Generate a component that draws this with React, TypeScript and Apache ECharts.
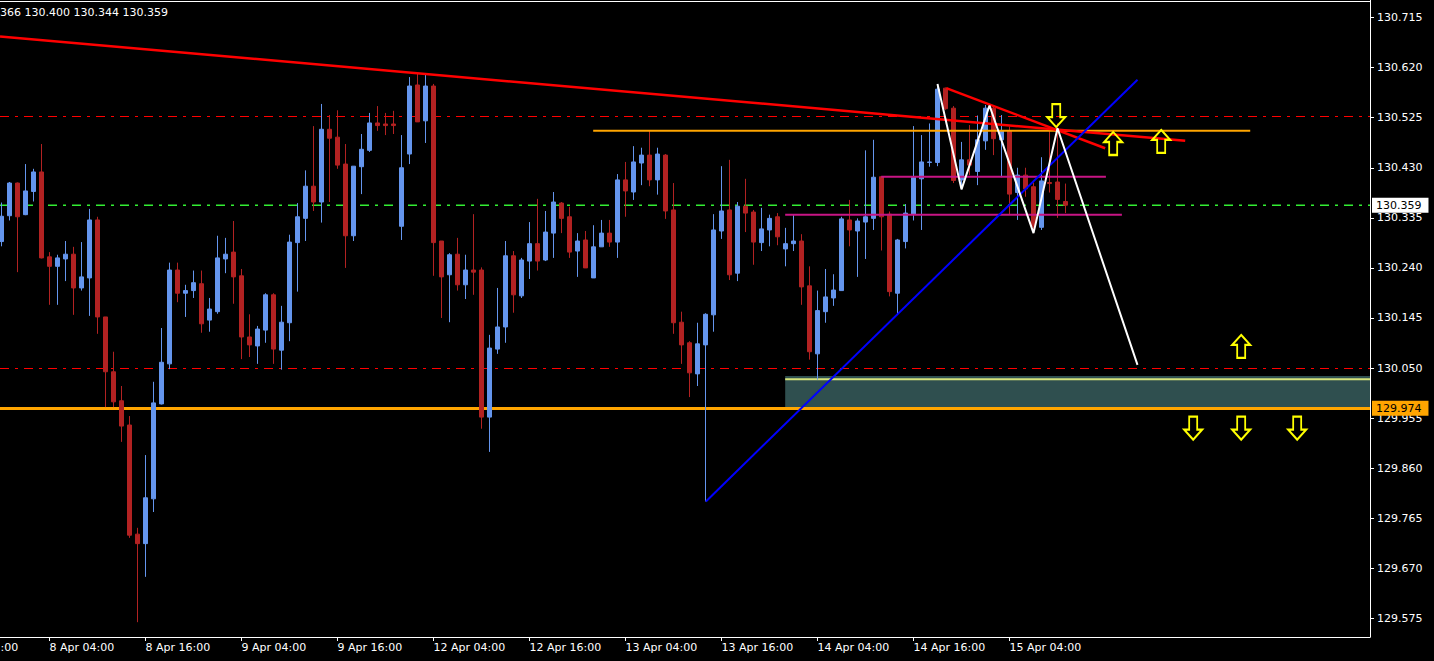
import React, { useEffect, useRef } from "react";
import * as echarts from "echarts";

// ---- Candles (H1), index 0..133 ----
const OPEN = [
  130.290, 130.339, 130.401, 130.341, 130.385, 130.422, 130.261, 130.243, 130.257, 130.266,
  130.202, 130.221, 130.331, 130.147, 130.043, 129.988, 129.942, 129.735, 129.717, 129.802,
  129.982, 130.058, 130.236, 130.192, 130.197, 130.210, 130.141, 130.157, 130.257, 130.270,
  130.225, 130.109, 130.092, 130.122, 130.189, 130.084, 130.136, 130.288, 130.334, 130.395,
  130.365, 130.503, 130.488, 130.437, 130.301, 130.432, 130.463, 130.515, 130.513, 130.513,
  130.319, 130.456, 130.587, 130.519, 130.585, 130.291, 130.227, 130.266, 130.208, 130.236,
  130.236, 129.957, 130.086, 130.128, 130.263, 130.187, 130.253, 130.286, 130.255, 130.306,
  130.363, 130.337, 130.272, 130.293, 130.221, 130.280, 130.306, 130.289, 130.407, 130.384,
  130.439, 130.454, 130.407, 130.454, 130.350, 130.137, 130.098, 130.039, 130.094, 130.151,
  130.310, 130.350, 130.230, 130.357, 130.346, 130.288, 130.312, 130.337, 130.276, 130.286,
  130.291, 130.206, 130.077, 130.157, 130.183, 130.197, 130.331, 130.310, 130.327, 130.334,
  130.413, 130.342, 130.192, 130.290, 130.342, 130.409, 130.440, 130.440, 130.581, 130.543,
  130.407, 130.445, 130.423, 130.481, 130.543, 130.483, 130.500, 130.383, 130.416, 130.394,
  130.317, 130.402, 130.403, 130.366,
];
const CLOSE = [
  130.338, 130.401, 130.337, 130.386, 130.422, 130.259, 130.243, 130.259, 130.266, 130.202,
  130.223, 130.331, 130.147, 130.043, 129.986, 129.940, 129.733, 129.717, 129.804, 129.984,
  130.061, 130.236, 130.192, 130.197, 130.212, 130.134, 130.162, 130.259, 130.266, 130.223,
  130.109, 130.094, 130.124, 130.189, 130.086, 130.137, 130.289, 130.337, 130.395, 130.365,
  130.503, 130.486, 130.435, 130.301, 130.433, 130.465, 130.515, 130.510, 130.510, 130.510,
  130.430, 130.585, 130.517, 130.585, 130.288, 130.223, 130.265, 130.208, 130.236, 130.232,
  129.957, 130.088, 130.128, 130.263, 130.189, 130.255, 130.286, 130.253, 130.308, 130.365,
  130.334, 130.270, 130.291, 130.240, 130.280, 130.306, 130.289, 130.407, 130.386, 130.441,
  130.454, 130.407, 130.456, 130.348, 130.136, 130.094, 130.041, 130.096, 130.152, 130.312,
  130.348, 130.227, 130.357, 130.344, 130.289, 130.314, 130.334, 130.299, 130.286, 130.291,
  130.204, 130.081, 130.159, 130.185, 130.198, 130.333, 130.312, 130.329, 130.337, 130.412,
  130.337, 130.195, 130.293, 130.344, 130.412, 130.441, 130.441, 130.579, 130.542, 130.406,
  130.445, 130.435, 130.483, 130.543, 130.485, 130.500, 130.380, 130.416, 130.390, 130.318,
  130.405, 130.400, 130.370, 130.359,
];
const LOW = [
  130.281, 130.330, 130.232, 130.340, 130.366, 130.258, 130.170, 130.170, 130.215, 130.151,
  130.197, 130.149, 130.115, 129.976, 129.976, 129.910, 129.728, 129.568, 129.654, 129.777,
  129.981, 130.048, 130.175, 130.147, 130.183, 130.117, 130.119, 130.153, 130.230, 130.172,
  130.067, 130.071, 130.058, 130.098, 130.058, 130.047, 130.101, 130.195, 130.291, 130.348,
  130.326, 130.365, 130.428, 130.240, 130.291, 130.380, 130.460, 130.500, 130.492, 130.494,
  130.293, 130.437, 130.517, 130.477, 130.225, 130.145, 130.137, 130.197, 130.181, 130.189,
  129.935, 129.891, 130.077, 130.098, 130.155, 130.183, 130.219, 130.235, 130.253, 130.259,
  130.306, 130.259, 130.223, 130.240, 130.221, 130.280, 130.280, 130.259, 130.337, 130.369,
  130.397, 130.395, 130.379, 130.333, 130.115, 130.058, 129.995, 130.016, 129.797, 130.119,
  130.295, 130.217, 130.215, 130.308, 130.246, 130.272, 130.281, 130.283, 130.243, 130.272,
  130.170, 130.066, 130.028, 130.136, 130.168, 130.197, 130.281, 130.223, 130.257, 130.312,
  130.273, 130.186, 130.151, 130.277, 130.330, 130.312, 130.432, 130.433, 130.540, 130.401,
  130.389, 130.416, 130.397, 130.464, 130.454, 130.412, 130.341, 130.331, 130.375, 130.306,
  130.312, 130.383, 130.335, 130.344,
];
const HIGH = [
  130.364, 130.403, 130.402, 130.437, 130.428, 130.475, 130.270, 130.265, 130.291, 130.280,
  130.289, 130.352, 130.337, 130.147, 130.081, 130.016, 129.959, 129.747, 129.885, 130.024,
  130.126, 130.250, 130.250, 130.208, 130.235, 130.235, 130.183, 130.301, 130.297, 130.329,
  130.238, 130.152, 130.130, 130.192, 130.192, 130.168, 130.303, 130.363, 130.425, 130.509,
  130.551, 130.530, 130.539, 130.475, 130.433, 130.494, 130.534, 130.547, 130.534, 130.538,
  130.492, 130.602, 130.610, 130.606, 130.589, 130.291, 130.268, 130.297, 130.265, 130.342,
  130.241, 130.113, 130.202, 130.291, 130.272, 130.259, 130.327, 130.371, 130.348, 130.384,
  130.365, 130.356, 130.306, 130.310, 130.321, 130.331, 130.331, 130.418, 130.441, 130.471,
  130.468, 130.500, 130.468, 130.456, 130.401, 130.157, 130.101, 130.136, 130.154, 130.342,
  130.433, 130.445, 130.365, 130.409, 130.350, 130.354, 130.341, 130.344, 130.316, 130.342,
  130.304, 130.243, 130.197, 130.238, 130.228, 130.337, 130.369, 130.334, 130.463, 130.483,
  130.413, 130.347, 130.295, 130.361, 130.509, 130.492, 130.514, 130.589, 130.582, 130.547,
  130.479, 130.511, 130.529, 130.549, 130.546, 130.530, 130.508, 130.430, 130.430, 130.402,
  130.450, 130.502, 130.514, 130.400,
];

// ---- Axes ----
const PRICE_TICKS = [
  129.575, 129.67, 129.765, 129.86, 129.955, 130.05, 130.145, 130.24, 130.335, 130.43,
  130.525, 130.62, 130.715,
];
const TIME_TICKS = [6, 18, 30, 42, 54, 66, 78, 90, 102, 114, 126];
const TIME_LABELS = [
  "8 Apr 04:00", "8 Apr 16:00", "9 Apr 04:00", "9 Apr 16:00", "12 Apr 04:00", "12 Apr 16:00",
  "13 Apr 04:00", "13 Apr 16:00", "14 Apr 04:00", "14 Apr 16:00", "15 Apr 04:00",
];
const CUT_LABEL = ":00";
const BAR_RANGE = [-0.1875, 171.0625];
const PRICE_RANGE = [129.5399, 130.7482];

// ---- Horizontal levels ----
const BID = 130.359;
const LEVEL_RED_UPPER = 130.528;
const LEVEL_RED_LOWER = 130.05;
const LEVEL_ORANGE = 129.974;

// ---- Drawn objects: [bar index, price] ----
const ZONE_X = [97.96, 171.0625];
const ZONE_PRICES = [130.035, 129.974];
const ZONE_EDGE = [[97.96, 130.029], [171.0625, 130.029]];
const RED_TREND = [[-0.1875, 130.679], [147.96, 130.481]];
const RED_SHORT = [[118.09, 130.581], [137.96, 130.467]];
const BLUE_TREND = [[88.05, 129.797], [142.0, 130.597]];
const ORANGE_SEG = [[73.96, 130.5], [156.09, 130.5]];
const MAGENTA_UPPER = [[109.96, 130.413], [138.05, 130.413]];
const MAGENTA_LOWER = [[97.96, 130.341], [140.05, 130.341]];
const ZIGZAG = [
  [117, 130.589], [120, 130.389], [123.5, 130.548], [129, 130.306], [132, 130.505], [142, 130.056],
];
const UP_ARROWS = [[138.96, 130.476], [144.96, 130.48], [154.96, 130.091]];
const DOWN_ARROWS = [[131.84, 130.529], [148.96, 129.936], [154.96, 129.936], [161.96, 129.936]];

const FONT = "DejaVu Sans";
const UP_PATH = "path://M9,0L18,10L13,10L13,23L5,23L5,10L0,10Z";
const DOWN_PATH = "path://M5,0L13,0L13,13L18,13L9,23L0,13L5,13Z";
const DASHDOT = [9, 6, 3, 6];

export default function App() {
  const ref = useRef<HTMLDivElement>(null);

  useEffect(() => {
    if (!ref.current) return;
    const chart = echarts.init(ref.current, null, { renderer: "svg" });
    const candles = OPEN.map((o, i) => [i, o, CLOSE[i], LOW[i], HIGH[i]]);
    const last = candles.length - 1;
    const header = `${OPEN[last].toFixed(3).slice(4)} ${HIGH[last].toFixed(3)} ${LOW[last].toFixed(3)} ${CLOSE[last].toFixed(3)}`;

    const trend = (data: number[][], color: string, width: number, z = 4) => ({
      type: "line",
      data,
      symbol: "none",
      silent: true,
      z,
      lineStyle: { color, width, type: "solid" },
    });

    const boxLabel = (text: string, bg: string) => ({
      show: true,
      formatter: text,
      distance: 2,
      backgroundColor: bg,
      color: "#000000",
      fontFamily: FONT,
      fontSize: 11,
      lineHeight: 12,
      padding: [2, 7, 1, 4],
    });

    const option: any = {
      animation: false,
      backgroundColor: "#000000",
      textStyle: { fontFamily: FONT },
      grid: { left: 0, right: 64, top: 0, bottom: 24, containLabel: false },
      xAxis: {
        type: "value",
        min: BAR_RANGE[0],
        max: BAR_RANGE[1],
        axisLine: { show: true, onZero: false, lineStyle: { color: "#ffffff", width: 1 } },
        axisTick: {
          show: true,
          customValues: TIME_TICKS,
          length: 4,
          lineStyle: { color: "#ffffff" },
        },
        axisLabel: {
          show: true,
          customValues: TIME_TICKS,
          formatter: (v: number) => TIME_LABELS[TIME_TICKS.indexOf(Math.round(v))] ?? "",
          color: "#ffffff",
          fontFamily: FONT,
          fontSize: 11,
          align: "left",
          margin: 5,
          hideOverlap: false,
        },
        splitLine: { show: false },
      },
      yAxis: {
        type: "value",
        position: "right",
        min: PRICE_RANGE[0],
        max: PRICE_RANGE[1],
        axisLine: { show: true, onZero: false, lineStyle: { color: "#ffffff", width: 1 } },
        axisTick: {
          show: true,
          customValues: PRICE_TICKS,
          length: 4,
          lineStyle: { color: "#ffffff" },
        },
        axisLabel: {
          show: true,
          customValues: PRICE_TICKS,
          formatter: (v: number) => v.toFixed(3),
          color: "#ffffff",
          fontFamily: FONT,
          fontSize: 11,
          margin: 7,
        },
        splitLine: { show: false },
      },
      series: [
        {
          type: "candlestick",
          data: candles,
          barWidth: 4,
          z: 2,
          silent: true,
          itemStyle: {
            color: "#6495ED",
            color0: "#B22222",
            borderColor: "#6495ED",
            borderColor0: "#B22222",
            borderWidth: 1,
          },
          markArea: {
            silent: true,
            z: 1,
            itemStyle: { color: "#2F4F4F" },
            data: [
              [
                { xAxis: ZONE_X[0], yAxis: ZONE_PRICES[0] },
                { xAxis: ZONE_X[1], yAxis: ZONE_PRICES[1] },
              ],
            ],
          },
          markLine: {
            silent: true,
            z: 1,
            symbol: ["none", "none"],
            precision: 3,
            data: [
              {
                yAxis: LEVEL_RED_UPPER,
                lineStyle: { color: "#FF0000", width: 1, type: DASHDOT },
                label: { show: false },
              },
              {
                yAxis: LEVEL_RED_LOWER,
                lineStyle: { color: "#FF0000", width: 1, type: DASHDOT },
                label: { show: false },
              },
              {
                yAxis: LEVEL_ORANGE,
                lineStyle: { color: "#FFA500", width: 3, type: "solid" },
                label: { ...boxLabel(LEVEL_ORANGE.toFixed(3), "#FFA500"), position: "end" },
              },
            ],
          },
        },
        {
          type: "line",
          data: [[BAR_RANGE[0], BID], [BAR_RANGE[1], BID]],
          symbol: "none",
          silent: true,
          z: 1,
          lineStyle: { color: "#33EE33", width: 1.5, type: DASHDOT, opacity: 1 },
          endLabel: { ...boxLabel(BID.toFixed(3), "#ffffff") },
        },
        trend(ZONE_EDGE, "#D6E37A", 2, 1.5),
        trend(ORANGE_SEG, "#FFA500", 2),
        trend(MAGENTA_UPPER, "#C71585", 2),
        trend(MAGENTA_LOWER, "#C71585", 2),
        trend(RED_TREND, "#FF0000", 2.5),
        trend(RED_SHORT, "#FF0000", 2.5),
        trend(BLUE_TREND, "#0000FF", 2),
        trend(ZIGZAG, "#FFFFFF", 2, 5),
        {
          type: "scatter",
          data: UP_ARROWS,
          symbol: UP_PATH,
          symbolSize: [18, 23],
          silent: true,
          z: 6,
          itemStyle: { color: "rgba(0,0,0,0)", borderColor: "#FFFF00", borderWidth: 2, opacity: 1 },
        },
        {
          type: "scatter",
          data: DOWN_ARROWS,
          symbol: DOWN_PATH,
          symbolSize: [18, 23],
          silent: true,
          z: 6,
          itemStyle: { color: "rgba(0,0,0,0)", borderColor: "#FFFF00", borderWidth: 2, opacity: 1 },
        },
      ],
      graphic: [
        {
          type: "line",
          shape: { x1: 0, y1: 1.5, x2: 1370, y2: 1.5 },
          style: { stroke: "#ffffff", lineWidth: 1 },
          z: 10,
        },
        {
          type: "text",
          x: 0,
          y: 12,
          style: {
            text: header,
            fill: "#ffffff",
            font: `11px "${FONT}"`,
            verticalAlign: "middle",
          },
          z: 10,
        },
        {
          type: "text",
          x: 0.5,
          y: 642,
          style: {
            text: CUT_LABEL,
            fill: "#ffffff",
            font: `11px "${FONT}"`,
            verticalAlign: "top",
          },
          z: 10,
        },
      ],
    };

    chart.setOption(option);
    return () => chart.dispose();
  }, []);

  return (
    <div
      ref={ref}
      style={{ position: "fixed", left: 0, top: 0, width: 1434, height: 661, background: "#000" }}
    />
  );
}
